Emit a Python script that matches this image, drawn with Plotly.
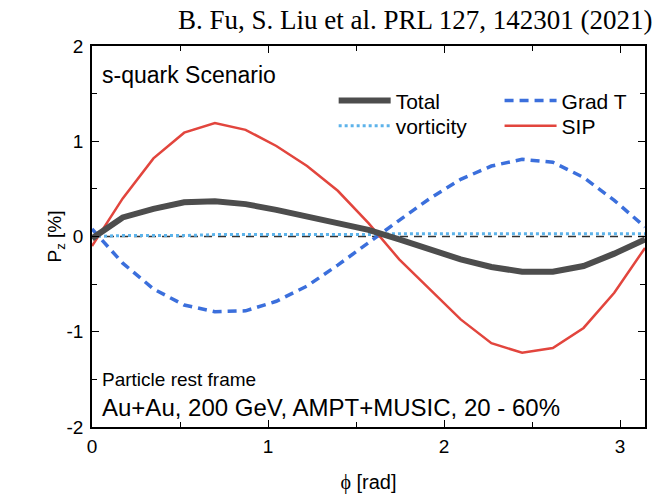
import numpy as np
import plotly.graph_objects as go

# phi sampled at k*pi/18
phi = [k * np.pi / 18 for k in range(19)]
total = [-0.02, 0.20, 0.29, 0.36, 0.37, 0.34, 0.28, 0.21, 0.14, 0.07, -0.03,
         -0.14, -0.24, -0.32, -0.37, -0.37, -0.31, -0.18, -0.03]
grad_t = [0.08, -0.28, -0.55, -0.72, -0.79, -0.78, -0.68, -0.52, -0.30, -0.06, 0.17,
          0.40, 0.60, 0.74, 0.81, 0.78, 0.62, 0.38, 0.10]
vorticity = [0.00, 0.01, 0.01, 0.01, 0.02, 0.02, 0.02, 0.02, 0.02, 0.02, 0.03,
             0.03, 0.03, 0.03, 0.03, 0.03, 0.03, 0.03, 0.03]
sip = [-0.10, 0.40, 0.82, 1.09, 1.19, 1.12, 0.95, 0.74, 0.48, 0.14, -0.24,
       -0.55, -0.87, -1.12, -1.22, -1.17, -0.96, -0.59, -0.12]

y_ticks = [-2, -1, 0, 1, 2]
y_ticktext = ["-2", "-1", "0", "1", "2"]
x_ticks = [0, 1, 2, 3]

FONT = "Liberation Sans, Arial, sans-serif"
SERIF = "Liberation Serif, Times New Roman, serif"

fig = go.Figure()
# zero reference line
fig.add_trace(go.Scatter(x=[0, np.pi], y=[0, 0], mode="lines",
                         line=dict(color="#333333", width=1.3, dash="8px,6px"),
                         showlegend=False, hoverinfo="skip"))
fig.add_trace(go.Scatter(x=phi, y=vorticity, mode="lines", name="vorticity",
                         line=dict(color="#5db3ea", width=3, dash="dot"), legend="legend2"))
fig.add_trace(go.Scatter(x=phi, y=grad_t, mode="lines", name="Grad T",
                         line=dict(color="#3b6fdc", width=3.5, dash="9px,6px"), legend="legend3"))
fig.add_trace(go.Scatter(x=phi, y=sip, mode="lines", name="SIP",
                         line=dict(color="#e2453d", width=2.5), legend="legend4"))
fig.add_trace(go.Scatter(x=phi, y=total, mode="lines", name="Total",
                         line=dict(color="#4d4d4d", width=6), legend="legend"))

axis_common = dict(showline=True, linecolor="black", linewidth=1.5, mirror="allticks",
                   ticks="inside", tickcolor="black", ticklen=7, tickwidth=1.3,
                   showgrid=False, zeroline=False, automargin=True,
                   tickfont=dict(family=FONT, size=19, color="black"))

fig.update_xaxes(range=[0, np.pi], tickvals=x_ticks, ticklabelstandoff=1,
                 minor=dict(dtick=0.5, tick0=0, ticks="inside", ticklen=5, tickcolor="black"),
                 title=dict(text=f"<span style='font-family:{SERIF}'>ϕ</span> [rad]",
                            font=dict(family=FONT, size=20, color="black"), standoff=19),
                 **axis_common)
fig.update_yaxes(range=[-2, 2], tickvals=y_ticks, ticktext=y_ticktext, ticklabelstandoff=3,
                 minor=dict(dtick=0.5, tick0=0, ticks="inside", ticklen=5, tickcolor="black"),
                 title=dict(text="P<sub>z</sub> [%]", font=dict(family=FONT, size=19, color="black"), standoff=0),
                 **axis_common)

legend_common = dict(xanchor="left", yanchor="middle", bgcolor="rgba(0,0,0,0)",
                     font=dict(family=FONT, size=21, color="black"), itemwidth=52,
                     borderwidth=0)
row1, row2 = 0.856, 0.79
col1, col2 = 0.437, 0.737
fig.update_layout(
    legend=dict(x=col1, y=row1, **legend_common),
    legend2=dict(x=col1, y=row2, **legend_common),
    legend3=dict(x=col2, y=row1, **legend_common),
    legend4=dict(x=col2, y=row2, **legend_common),
)

fig.update_layout(
    width=661, height=498,
    margin=dict(l=92, r=16, t=46, b=71, autoexpand=False),
    paper_bgcolor="white", plot_bgcolor="white",
    annotations=[
        dict(text="B. Fu, S. Liu et al. PRL 127, 142301 (2021)", xref="paper", yref="paper",
             x=1.018, y=1.0, yshift=26, xanchor="right", yanchor="middle", showarrow=False,
             font=dict(family=SERIF, size=27, color="black")),
        dict(text="s-quark Scenario", xref="paper", yref="paper", x=0.015, y=0.925,
             xanchor="left", yanchor="middle", showarrow=False,
             font=dict(family=FONT, size=23, color="black")),
        dict(text="Particle rest frame", xref="paper", yref="paper", x=0.015, y=0.125,
             xanchor="left", yanchor="middle", showarrow=False,
             font=dict(family=FONT, size=19, color="black")),
        dict(text="Au+Au, 200 GeV, AMPT+MUSIC, 20 - 60%", xref="paper", yref="paper", x=0.015, y=0.05,
             xanchor="left", yanchor="middle", showarrow=False,
             font=dict(family=FONT, size=24, color="black")),
    ],
)

fig.write_html("out.html")
